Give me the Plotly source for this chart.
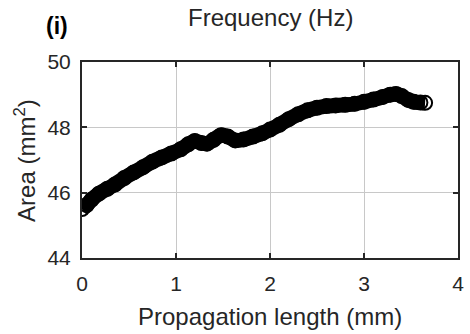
import plotly.graph_objects as go

# Cross-sectional area along the propagation path
propagation_mm = [0.00, 0.05, 0.10, 0.18, 0.27, 0.35, 0.45, 0.55, 0.65, 0.75,
                  0.85, 0.95, 1.05, 1.13, 1.20, 1.27, 1.33, 1.40, 1.48, 1.55,
                  1.63, 1.72, 1.82, 1.92, 2.00, 2.10, 2.20, 2.30, 2.40, 2.50,
                  2.60, 2.70, 2.80, 2.90, 3.00, 3.10, 3.20, 3.28, 3.34, 3.40,
                  3.47, 3.53, 3.60, 3.65]
area_mm2 = [45.50, 45.62, 45.78, 45.97, 46.12, 46.25, 46.45, 46.62, 46.78, 46.95,
            47.08, 47.20, 47.33, 47.48, 47.58, 47.52, 47.50, 47.62, 47.76, 47.72,
            47.60, 47.63, 47.72, 47.82, 47.93, 48.08, 48.25, 48.40, 48.52, 48.60,
            48.65, 48.67, 48.69, 48.72, 48.78, 48.85, 48.93, 49.00, 49.02, 48.96,
            48.84, 48.78, 48.76, 48.75]

x_ticks = [0, 1, 2, 3, 4]
y_ticks = [44, 46, 48, 50]

FONT = "Liberation Sans, Arial, sans-serif"
AX = "#262626"

fig = go.Figure()
# solid band underneath the circle markers
fig.add_trace(go.Scatter(
    x=propagation_mm, y=area_mm2, mode="lines",
    line=dict(color="black", width=15, shape="spline"),
    hoverinfo="skip", showlegend=False))
fig.add_trace(go.Scatter(
    x=propagation_mm, y=area_mm2, mode="markers",
    marker=dict(symbol="circle-open", size=14, color="black",
                line=dict(width=2, color="black")),
    showlegend=False))

axis_common = dict(
    showgrid=True, gridcolor="#c8c8c8", gridwidth=1,
    showline=True, linecolor=AX, linewidth=2, mirror="ticks",
    ticks="inside", ticklen=5, tickwidth=1.5, tickcolor=AX,
    tickfont=dict(family=FONT, size=21, color=AX),
    zeroline=False,
)

fig.update_xaxes(range=[0, 4], tickvals=x_ticks, ticklabelstandoff=6, **axis_common)
fig.update_yaxes(range=[44, 50], tickvals=y_ticks, ticklabelstandoff=5, **axis_common)

# text placed by pixel position in the 470x334 canvas
L, R, T, B = 82, 6, 62, 76
W, H = 470, 334
pw, ph = W - L - R, H - T - B


def px(x, y):
    return (x - L) / pw, (H - B - y) / ph


labels = [
    ("<b>(i)</b>", 57, 26, 23, "black", 0),
    ("Frequency (Hz)", 273, 17, 24, AX, 0),
    ("Propagation length (mm)", 273, 316, 24, AX, 0),
    ("Area (mm<sup>2</sup>)", 24, 160, 24, AX, -90),
]
annotations = []
for text, x, y, size, color, angle in labels:
    ax_, ay_ = px(x, y)
    annotations.append(dict(
        text=text, x=ax_, y=ay_, xref="paper", yref="paper",
        xanchor="center", yanchor="middle", textangle=angle,
        showarrow=False, font=dict(family=FONT, size=size, color=color)))

fig.update_layout(
    width=W, height=H,
    margin=dict(l=L, r=R, t=T, b=B),
    paper_bgcolor="white", plot_bgcolor="white",
    annotations=annotations,
)

fig.write_html("out.html")
